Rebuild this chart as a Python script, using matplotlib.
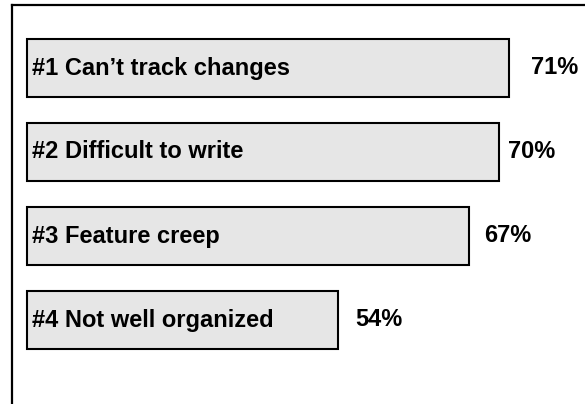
"""Top complaints bar chart."""
import matplotlib.pyplot as plt

labels = [
    "#1 Can\u2019t track changes",
    "#2 Difficult to write",
    "#3 Feature creep",
    "#4 Not well organized",
]
values = [71, 70, 67, 54]
value_labels = ["71%", "70%", "67%", "54%"]

plt.rcParams["font.family"] = ["Liberation Sans", "DejaVu Sans"]

W, H = 585, 404
fig = plt.figure(figsize=(W / 100, H / 100), dpi=100)
# frame: left spine at x=12px, top spine at y=5px, runs off right/bottom
ax = fig.add_axes([12 / W, 0, 1 - 12 / W, 1 - 5 / H])

base = 23  # bars start here on the value axis
ypos = list(range(len(values)))
ax.barh(
    ypos,
    [v - base for v in values],
    left=base,
    height=0.70,
    color="#e6e6e6",
    edgecolor="black",
    linewidth=1.5,
)

# label gaps after bar ends, in points
gaps = [16, 6.5, 11, 12.5]
for y, v, lab, vl, g in zip(ypos, values, labels, value_labels, gaps):
    ax.annotate(lab, (base, y), xytext=(3.5, 0), textcoords="offset points",
                ha="left", va="center", fontsize=17, fontweight="bold")
    ax.annotate(vl, (v, y), xytext=(g, 0), textcoords="offset points",
                ha="left", va="center", fontsize=17, fontweight="bold")

ax.set_xlim(21.5, 78.6)
ax.set_ylim(4.0, -0.75)
ax.set_xticks([])
ax.set_yticks([])
ax.spines["right"].set_visible(False)
ax.spines["bottom"].set_visible(False)
ax.spines["left"].set_linewidth(1.6)
ax.spines["top"].set_linewidth(1.6)

fig.savefig("out.png", dpi=100)
